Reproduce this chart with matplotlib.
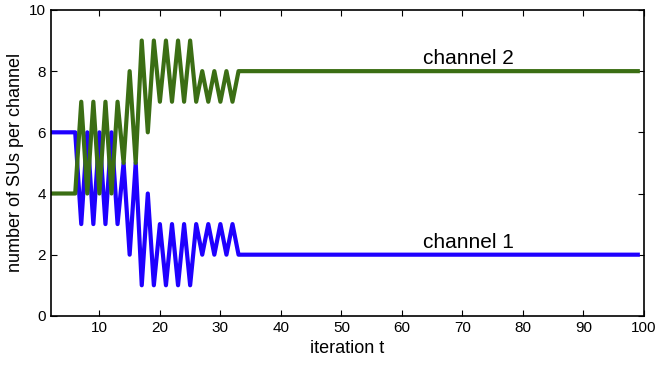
import matplotlib
matplotlib.use("Agg")
import matplotlib.pyplot as plt

plt.rcParams["font.family"] = ["Liberation Sans", "DejaVu Sans"]

# iterations 2..99
iterations = list(range(2, 100))

# number of SUs on channel 1
channel1 = ([6, 6, 6, 6, 6,
             3, 6, 3, 6, 3, 6, 3,
             5, 2, 5, 1, 4, 1, 3, 1, 3, 1, 3, 1, 3,
             2, 3, 2, 3, 2, 3]
            + [2] * 67)

# number of SUs on channel 2
channel2 = ([4, 4, 4, 4, 4,
             7, 4, 7, 4, 7, 4, 7,
             5, 8, 5, 9, 6, 9, 7, 9, 7, 9, 7, 9, 7,
             8, 7, 8, 7, 8, 7]
            + [8] * 67)

blue = "#1f00ff"
green = "#3b6e14"

fig = plt.figure(figsize=(6.59, 3.69), dpi=100)
ax = fig.add_axes([0.0774, 0.144, 0.8996, 0.829])

ax.plot(iterations, channel1, color=blue, lw=3)
ax.plot(iterations, channel2, color=green, lw=3)

ax.text(71, 8.42, "channel 2", fontsize=15, ha="center", va="center")
ax.text(71, 2.4, "channel 1", fontsize=15, ha="center", va="center")

ax.set_xlim(2, 100)
ax.set_ylim(0, 10)
ax.set_xticks(range(10, 101, 10))
ax.set_yticks(range(0, 11, 2))
ax.tick_params(direction="in", top=True, right=True, labelsize=11, length=4)
for s in ax.spines.values():
    s.set_linewidth(1.2)

ax.set_xlabel("iteration t", fontsize=13)
ax.set_ylabel("number of SUs per channel", fontsize=13)

plt.savefig("out.png", dpi=100)
plt.close()
